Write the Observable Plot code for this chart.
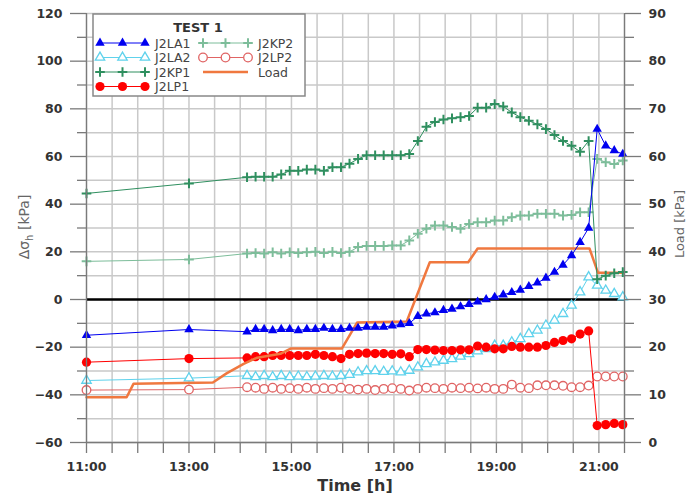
<!DOCTYPE html>
<html><head><meta charset="utf-8">
<script src="https://cdn.jsdelivr.net/npm/d3@7"></script>
<script src="https://cdn.jsdelivr.net/npm/@observablehq/plot@0.6"></script>
<style>
body{margin:0;background:#fff;}
#chart{position:relative;width:692px;height:495px;}
</style></head><body><div id="chart"></div>
<script>
// ---- data ----
const times = ["11:00","13:00",
 "14:08","14:18","14:28","14:38","14:48","14:58",
 "15:08","15:18","15:28","15:38","15:48","15:58",
 "16:08","16:18","16:28","16:38","16:48","16:58",
 "17:08","17:18","17:28","17:38","17:48","17:58",
 "18:08","18:18","18:28","18:38","18:48","18:58",
 "19:08","19:18","19:28","19:38","19:48","19:58",
 "20:08","20:18","20:28","20:38","20:48","20:58",
 "21:08","21:18","21:28"];
const J2LA1 = [-15,-12.6, -13.5,-12.5,-12.5,-13,-12.5,-12.5, -13,-12.5,-12.5,-12,-12.5,-12.5, -12,-12,-11.5,-11.5,-11.5,-11, -10.5,-10,-7,-6,-5.5,-4.5, -4,-3,-2,-1,0,1, 2,3,4,5.5,7,9, 11.5,14.5,18.5,24,30,71.5, 64.5,62.5,61];
const J2LA2 = [-34,-33, -32,-32.5,-32,-32.5,-32,-32.5, -32.3,-32.5,-32.3,-32,-32.3,-32, -31.5,-30.5,-30,-30,-30.3,-30.1, -30.5,-29.8,-28.4,-27,-26.3,-25.6, -24.9,-23.9,-22.8,-21.7,-20.7,-19.3, -19.3,-17.9,-16.5,-14.4,-13,-10.9, -8.8,-6,-2.5,3.1,9.4,5.9, 3.8,2.4,1];
const J2KP1 = [44.5,48.7, 51.3,51.5,51.5,51.5,52.5,54, 54,54.5,54.5,54,55.5,55.5, 57,59,60.5,60.5,60.5,60.5, 60.5,61,66.5,72.5,74.5,75.5, 76,76.5,77,80.5,80.5,82, 81,78.5,76.5,75,73.5,71.5, 69,66.5,64.5,62,66.5,8.5, 10,11,11.5];
const J2LP1 = [-26.3,-24.8, -24.5,-24,-24,-23.5,-23.5,-23.5, -23.5,-23.5,-23,-23.5,-24,-24.8, -23,-22.7,-22.5,-22.7,-22.7,-23, -22.8,-24,-21,-21,-21.2,-21.4, -21.4,-21.1,-21.1,-19.5,-20,-20.7, -20.7,-19.7,-20,-20,-20,-19.3, -18,-17.2,-16.5,-14.5,-13.2,-52.9, -52.5,-52,-52.5];
const J2KP2 = [16,16.8, 19.3,19.5,19.3,19.8,19.3,19.8, 19.5,19.8,20,19.5,20,19.5, 20,22,22.5,22.5,22.5,22.7, 22.7,24.8,27.6,29.7,31,31, 30.4,29.7,31.7,32.4,32.4,33.1, 33.1,34.5,35.2,35.2,36,36, 36,35.2,35.5,36.6,36.6,59, 57.6,56.9,58.3];
const J2LP2 = [-38,-37.8, -36.8,-37,-37.5,-37,-37.5,-37.2, -37.5,-37,-37.5,-37.2,-37.5,-37, -37.5,-37.8,-37.5,-38,-37.5,-37.2, -37.5,-38.2,-37.5,-37,-37.2,-37.5, -37,-37.2,-37,-37.3,-37,-37.5, -37.5,-35.7,-37,-37.2,-36,-36, -36,-36.2,-36.8,-36.8,-36.1,-32.3, -32.3,-32.3,-32.3];
const loadTimes  = ["11:00","11:47","11:55","13:28","13:44","14:04","14:20","14:47","14:59","15:59","16:17","17:15","17:42","18:27","18:38","20:49","20:59","21:28"];
const loadValues = [9.5,9.5,12.3,12.6,14.5,16.5,17.8,18.6,19.7,19.7,25.2,25.4,37.8,37.8,40.7,40.7,35.6,35.6];
const xTickLabels = ["11:00","13:00","15:00","17:00","19:00","21:00"];
const leftTicks = [-60,-40,-20,0,20,40,60,80,100,120];
const rightTicks = [0,10,20,30,40,50,60,70,80,90];
const legendTitle = "TEST 1";

// ---- styles ----
const styles = {
  J2LA1: {color:"#0000f0", symbol:"triangle", filled:true, r:3.5},
  J2LA2: {color:"#5fd2ec", symbol:"triangle", filled:false, r:3.5},
  J2KP1: {color:"#2f8f5f", symbol:"plus", stroked:true, r:3.2},
  J2LP1: {color:"#ff0000", symbol:"circle", filled:true, r:4.6},
  J2KP2: {color:"#7dbd9a", symbol:"plus", stroked:true, r:3.2},
  J2LP2: {color:"#e06464", symbol:"circle", filled:false, r:4.3}
};
const loadColor = "#f0783f";
const seriesData = {J2LA1, J2LA2, J2KP1, J2LP1, J2KP2, J2LP2};
const drawOrder = ["J2LP2","J2KP2","J2LA2","J2LP1","J2KP1","J2LA1"];

const toH = s => { const [h,m] = s.split(":").map(Number); return h + m/60; };
const rowsOf = name => seriesData[name].map((v,i) => ({t: toH(times[i]), v}));
const loadRows = loadTimes.map((s,i) => ({t: toH(s), load: loadValues[i]}));
const loadToLeft = l => l*2 - 60;

const halfHours = d3.range(11, 21.51, 0.5);
const gridYs = d3.range(-60, 120.1, 10);
const minorY = d3.range(-50, 120, 20);

const seriesMarks = [];
for (const name of drawOrder) {
  const s = styles[name];
  const rows = rowsOf(name);
  seriesMarks.push(Plot.line(rows, {x:"t", y:"v", stroke:s.color, strokeWidth:1}));
  if (s.stroked) seriesMarks.push(Plot.dot(rows, {x:"t", y:"v", symbol:s.symbol, r:s.r, stroke:s.color, strokeWidth:2, fill:"none"}));
  else if (s.filled) seriesMarks.push(Plot.dot(rows, {x:"t", y:"v", symbol:s.symbol, r:s.r, fill:s.color, stroke:"none"}));
  else seriesMarks.push(Plot.dot(rows, {x:"t", y:"v", symbol:s.symbol, r:s.r, fill:"white", stroke:s.color, strokeWidth:1.3}));
}

const axisStyle = {stroke:"#7a7a7a", strokeWidth:1.3};
const plot = Plot.plot({
  width: 692, height: 495,
  marginLeft: 86, marginRight: 68, marginTop: 13, marginBottom: 53,
  x: {domain:[11, 21.5]},
  y: {domain:[-60, 120]},
  style: {fontFamily:"DejaVu Sans, sans-serif", fontSize:"12.5px", fontWeight:"bold", color:"#333", background:"white"},
  marks: [
    Plot.ruleX(halfHours, {stroke:"#c9c9c9", strokeWidth:1.5}),
    Plot.ruleY(gridYs, {stroke:"#c9c9c9", strokeWidth:1.5}),
    Plot.ruleY([0], {stroke:"#000", strokeWidth:2.5}),
    ...seriesMarks.slice(0, 8),
    Plot.line(loadRows, {x:"t", y: d => loadToLeft(d.load), stroke:loadColor, strokeWidth:2.5}),
    ...seriesMarks.slice(8),
    Plot.ruleX([11, 21.5], axisStyle),
    Plot.ruleY([-60], axisStyle),
    Plot.axisY({ticks:leftTicks, tickSize:16, tickPadding:8, label:null, ...axisStyle, fill:"#333"}),
    Plot.axisY({ticks:minorY, tickSize:9, tickFormat:() => "", label:null, ...axisStyle}),
    Plot.axisY({anchor:"right", ticks:rightTicks.map(loadToLeft), tickFormat: y => String((y+60)/2), tickSize:16, tickPadding:8, label:null, ...axisStyle, fill:"#333"}),
    Plot.axisY({anchor:"right", ticks:minorY, tickSize:9, tickFormat:() => "", label:null, ...axisStyle}),
    Plot.axisX({ticks:halfHours, tickSize:11, tickFormat:() => "", label:null, ...axisStyle}),
    Plot.axisX({ticks:xTickLabels.map(toH), tickFormat: t => xTickLabels.find(s => Math.abs(toH(s)-t) < 1e-6), tickSize:0, tickPadding:20, label:null, fill:"#333"})
  ]
});
document.getElementById("chart").appendChild(plot);

// ---- axis titles ----
const svg = d3.select(plot);
const yT = svg.append("text").attr("transform","translate(29,227) rotate(-90)")
  .attr("text-anchor","middle").attr("font-family","DejaVu Sans, sans-serif").attr("font-size",14)
  .attr("font-weight","normal").attr("fill","#666");
yT.append("tspan").text("Δσ");
yT.append("tspan").attr("font-size",10).attr("dy",4).text("h");
yT.append("tspan").attr("dy",-4).text(" [kPa]");
svg.append("text").attr("transform","translate(684,224) rotate(-90)")
  .attr("text-anchor","middle").attr("font-family","DejaVu Sans, sans-serif").attr("font-size",13)
  .attr("font-weight","normal").attr("fill","#666").text("Load [kPa]");
svg.append("text").attr("x",355).attr("y",491).attr("text-anchor","middle")
  .attr("font-family","DejaVu Sans, sans-serif").attr("font-size",16).attr("font-weight","bold")
  .attr("fill","#333").text("Time [h]");

// ---- legend ----
const lg = svg.append("g").attr("transform","translate(93,14)");
lg.append("rect").attr("width",212).attr("height",82).attr("fill","white").attr("stroke","#888").attr("stroke-width",1.5);
lg.append("text").attr("x",105).attr("y",18).attr("text-anchor","middle")
  .attr("font-family","DejaVu Sans, sans-serif").attr("font-size",13).attr("font-weight","bold").attr("fill","#333").text(legendTitle);
const legendItems = [
  {name:"J2LA1", col:0, row:0}, {name:"J2LA2", col:0, row:1}, {name:"J2KP1", col:0, row:2}, {name:"J2LP1", col:0, row:3},
  {name:"J2KP2", col:1, row:0}, {name:"J2LP2", col:1, row:1}, {name:"Load", col:1, row:2}
];
const symMap = {triangle:d3.symbolTriangle, circle:d3.symbolCircle, plus:d3.symbolPlus};
for (const it of legendItems) {
  const x0 = it.col ? 110 : 7, x1 = x0 + 45, yy = 29 + it.row*14.5;
  const g = lg.append("g");
  if (it.name === "Load") {
    g.append("line").attr("x1",x0).attr("x2",x1).attr("y1",yy).attr("y2",yy).attr("stroke",loadColor).attr("stroke-width",2.5);
  } else {
    const s = styles[it.name];
    g.append("line").attr("x1",x0).attr("x2",x1).attr("y1",yy).attr("y2",yy).attr("stroke",s.color).attr("stroke-width",1);
    const path = d3.symbol(symMap[s.symbol], Math.PI*s.r*s.r)();
    for (const px of [x0, x0+22.5, x1]) {
      const p = g.append("path").attr("d",path).attr("transform",`translate(${px},${yy})`);
      if (s.stroked) p.attr("fill","none").attr("stroke",s.color).attr("stroke-width",2);
      else if (s.filled) p.attr("fill",s.color);
      else p.attr("fill","white").attr("stroke",s.color).attr("stroke-width",1.3);
    }
  }
  g.append("text").attr("x",x1+10).attr("y",yy+4.5).attr("text-anchor","start").attr("font-family","DejaVu Sans, sans-serif")
    .attr("font-size",12.5).attr("font-weight","normal").attr("fill","#444").text(it.name);
}
</script>
</body></html>
